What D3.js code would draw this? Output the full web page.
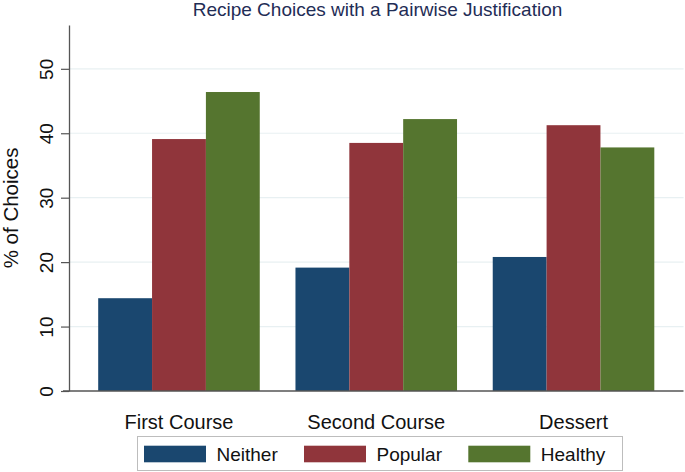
<!DOCTYPE html>
<html><head><meta charset="utf-8">
<script src="https://cdn.jsdelivr.net/npm/d3@7"></script>
<style>body{margin:0;background:#fff}svg{display:block}text{font-family:"Liberation Sans",Arial,sans-serif}</style>
</head><body><svg id="c" width="685" height="472"></svg>
<script>
const categories = ["First Course", "Second Course", "Dessert"];
const seriesNames = ["Neither", "Popular", "Healthy"];
const neither = [14.4, 19.15, 20.8];
const popular = [39.1, 38.5, 41.25];
const healthy = [46.4, 42.2, 37.8];
const yTicks = [0, 10, 20, 30, 40, 50];
const colors = ["#1a476f", "#90353b", "#55752f"];
const title = "Recipe Choices with a Pairwise Justification";
const yLabel = "% of Choices";

const values = [neither, popular, healthy];
const svg = d3.select("#c");
const L = 69, R = 683.5, B = 391, T = 25;

const y = d3.scaleLinear().domain([0, 56.8]).range([B, T]);
const x0 = d3.scaleBand().domain(categories).range([L, R]).paddingInner(0.181).paddingOuter(0.148);
const x1 = d3.scaleBand().domain(seriesNames).range([0, x0.bandwidth()]).padding(0);
const color = d3.scaleOrdinal().domain(seriesNames).range(colors);

// gridlines
svg.append("g").selectAll("line").data(yTicks.filter(d => d > 0)).join("line")
  .attr("x1", L).attr("x2", R).attr("y1", d => y(d)).attr("y2", d => y(d))
  .attr("stroke", "#e8f0f2").attr("stroke-width", 1.2);

// bars
const groups = svg.append("g").selectAll("g").data(categories).join("g")
  .attr("transform", d => `translate(${x0(d)},0)`);
groups.selectAll("rect").data((c, i) => seriesNames.map((s, j) => ({s, v: values[j][i]}))).join("rect")
  .attr("x", d => x1(d.s)).attr("width", x1.bandwidth())
  .attr("y", d => y(d.v)).attr("height", d => B - y(d.v))
  .attr("fill", d => color(d.s));

// y axis
const yAxis = d3.axisLeft(y).tickValues(yTicks).tickSize(8).tickSizeOuter(0);
const ya = svg.append("g").attr("transform", `translate(${L},0)`).call(yAxis);
ya.select(".domain").attr("stroke", "#555").attr("stroke-width", 1.3);
ya.selectAll(".tick line").attr("stroke", "#555").attr("stroke-width", 1.2);
ya.selectAll(".tick text").attr("font-size", 19).attr("fill", "#111")
  .attr("text-anchor", "middle").attr("dy", 0)
  .attr("transform", "rotate(-90)").attr("x", 0).attr("y", -16.5);

// x axis
const xAxis = d3.axisBottom(x0).tickSize(0).tickSizeOuter(0);
const xa = svg.append("g").attr("transform", `translate(0,${B})`).call(xAxis);
xa.select(".domain").attr("stroke", "#555").attr("stroke-width", 1.3).attr("d", `M${L - 6},0H${R}`);
xa.selectAll(".tick text").attr("font-size", 20).attr("fill", "#111").attr("dy", 0).attr("y", 37.5);

// y label
svg.append("text").attr("transform", `translate(17.5,${(y(0) + y(50)) / 2 - 22}) rotate(-90)`)
  .attr("text-anchor", "middle").attr("font-size", 20.5).attr("fill", "#111").text(yLabel);

// title
svg.append("text").attr("x", 377.5).attr("y", 15.5).attr("text-anchor", "middle")
  .attr("font-size", 19).attr("fill", "#1f2d56").text(title);

// legend
const lg = svg.append("g");
lg.append("rect").attr("x", 137.5).attr("y", 436.5).attr("width", 485).attr("height", 34)
  .attr("fill", "#fff").attr("stroke", "#bdbdbd").attr("stroke-width", 1);
const legX = [144, 304, 468.3];
const items = lg.selectAll("g.item").data(seriesNames).join("g").attr("class", "item")
  .attr("transform", (d, i) => `translate(${legX[i]},0)`);
items.append("rect").attr("x", 0).attr("y", 445.7).attr("width", 62).attr("height", 16.6)
  .attr("fill", d => color(d));
items.append("text").attr("x", 72.5).attr("y", 460.5).attr("font-size", 19).attr("fill", "#111").text(d => d);
</script></body></html>
